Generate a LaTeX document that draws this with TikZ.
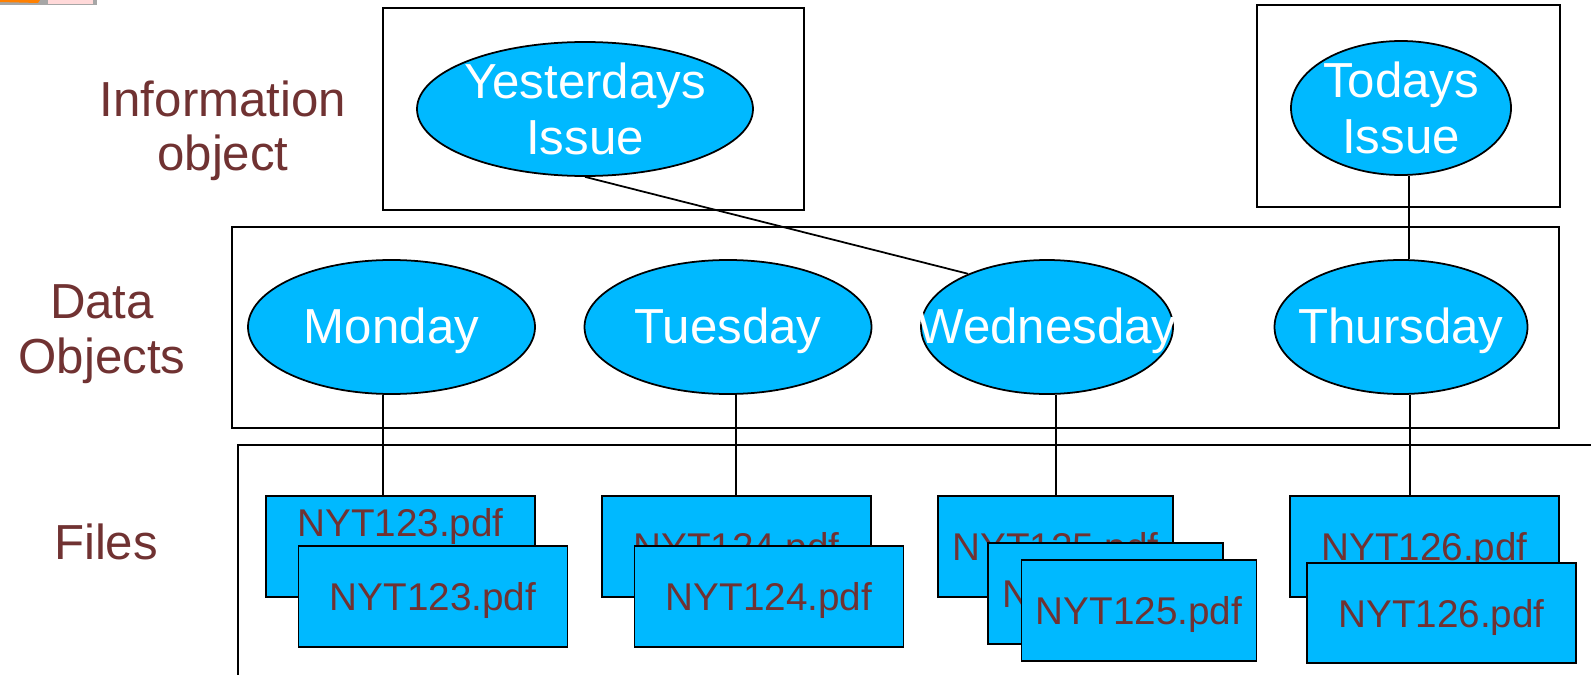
\documentclass[tikz,border=0pt]{standalone}
\usepackage{fontspec}
\setmainfont{Liberation Sans}
\usetikzlibrary{shapes.geometric}
\definecolor{nytblue}{RGB}{0,185,255}
\definecolor{nytbrown}{RGB}{112,50,50}

\begin{document}
\begin{tikzpicture}[x=0.2mm,y=-0.2mm,line width=1pt,
    tier/.style={text=nytbrown,align=center,font=\fontsize{28}{31}\selectfont},
    issue/.style={ellipse,draw,fill=nytblue,inner sep=0pt,minimum height=26.8mm},
    every label/.style={text=white,align=center,font=\fontsize{28}{32.3}\selectfont},
    file/.style={draw,fill=nytblue,text=nytbrown,inner sep=0pt,text depth=0pt,
      minimum width=53.8mm,minimum height=20.2mm,font=\fontsize{22}{24}\selectfont}
  ]
  \useasboundingbox (0,0) rectangle (1591,675);
  \fill[gray!70] (0,0) rectangle (97,5);
  \fill[orange] (0,0) -- (40,0) -- (38,3) -- (0,2) -- cycle;
  \fill[pink!60] (48,0) rectangle (93,4);

  \node[tier] (infolbl) at (223,131) {Information\\object};
  \node[tier] (datalbl) at (102,334) {Data\\Objects};
  \node[tier] (fileslbl) at (106,542) {Files};

  \draw (383,8) rectangle (804,210);
  \draw (1257,5) rectangle (1560,207);
  \draw (232,227) rectangle (1559,428);
  \draw (1591,445) -- (238,445) -- (238,675);

  \node[issue,minimum width=67.2mm,label={center:Yesterdays\\Issue}] (yest) at (585,109) {};
  \node[issue,minimum width=44mm,label={center:Todays\\Issue}] (tod) at (1401,108) {};
  \node[issue,minimum width=57.4mm,label={[yshift=-0.8mm]center:Monday}] (mon) at (391.5,327) {};
  \node[issue,minimum width=57.4mm,label={[yshift=-0.8mm]center:Tuesday}] (tue) at (728,327) {};
  \node[issue,minimum width=50.4mm,label={[yshift=-0.8mm]center:Wednesday}] (wed) at (1047,327) {};
  \node[issue,minimum width=50.6mm,label={[yshift=-0.8mm]center:Thursday}] (thu) at (1401,327) {};

  \node[file,text depth=26.8pt] (f123a) at (400.5,546.5) {NYT123.pdf};
  \node[file] (f123b) at (433,596.5) {NYT123.pdf};
  \node[file] (f124a) at (736.5,546.5) {NYT124.pdf};
  \node[file] (f124b) at (769,596.5) {NYT124.pdf};
  \node[file,minimum width=47mm] (f125a) at (1055.5,546.5) {NYT125.pdf};
  \node[file,minimum width=47mm] (f125b) at (1105.5,593.5) {NYT125.pdf};
  \node[file,minimum width=47mm] (f125c) at (1139,610.5) {NYT125.pdf};
  \node[file] (f126a) at (1424.5,546.5) {NYT126.pdf};
  \node[file,minimum height=20mm] (f126b) at (1441.5,613) {NYT126.pdf};

  \draw (yest.south) -- (wed.146);
  \draw ([xshift=1.6mm]tod.south) -- ([xshift=1.6mm]thu.north);
  \draw ([xshift=-1.7mm]mon.south) -- ([xshift=-1.7mm]mon.south |- f123a.north);
  \draw ([xshift=1.6mm]tue.south) -- ([xshift=1.6mm]tue.south |- f124a.north);
  \draw ([xshift=1.8mm]wed.south) -- ([xshift=1.8mm]wed.south |- f125a.north);
  \draw ([xshift=1.8mm]thu.south) -- ([xshift=1.8mm]thu.south |- f126a.north);
\end{tikzpicture}
\end{document}
